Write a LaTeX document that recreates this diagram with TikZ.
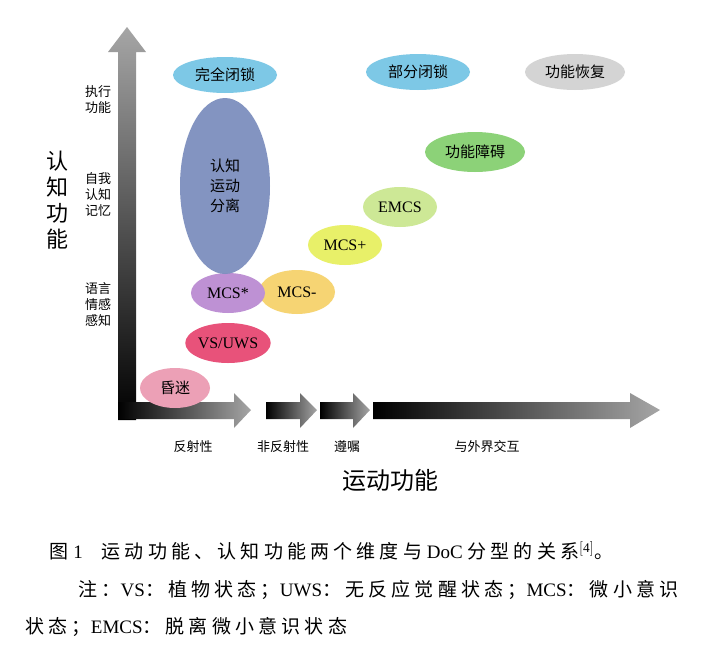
\documentclass[tikz,border=0pt]{standalone}
\usepackage{fontspec}
\setmainfont{Liberation Serif}
\newfontfamily\cjk{Noto Sans CJK SC}
\newfontfamily\cjkc[LetterSpace=22]{Noto Sans CJK SC}
\usetikzlibrary{shapes.geometric}
\definecolor{cblue}{RGB}{125,200,230}
\definecolor{cgray}{RGB}{212,212,212}
\definecolor{cslate}{RGB}{125,143,190}
\definecolor{cgreen}{RGB}{140,210,120}
\definecolor{clgreen}{RGB}{205,232,150}
\definecolor{cyel}{RGB}{232,240,105}
\definecolor{cpurp}{RGB}{190,145,212}
\definecolor{corange}{RGB}{246,212,115}
\definecolor{cred}{RGB}{232,82,122}
\definecolor{cpink}{RGB}{236,160,182}
\tikzset{
 st/.style={ellipse,fill=#1,inner sep=0pt,font=\cjk\fontsize{15}{15}\selectfont},
 lt/.style={font=\fontsize{16}{16}\selectfont},
 axlab/.style={font=\cjk\fontsize{13}{16}\selectfont,align=center},
 captxt/.style={anchor=west,font=\fontsize{19}{19}\selectfont},
}
\begin{document}
\begin{tikzpicture}[x=1pt,y=-1pt]
\useasboundingbox[fill=white] (0,0) rectangle (710,646);
% vertical axis
\shade[top color=gray!70,bottom color=black] (118,52) -- (108,52) -- (127,27) -- (146,52) -- (136,52) -- (136,420) -- (118,420) -- cycle;
% horizontal arrows
\shade[left color=black,right color=gray!70] (118,402) -- (234,402) -- (234,393) -- (251,410) -- (234,428) -- (234,419) -- (118,419) -- cycle;
\shade[left color=black,right color=gray!70] (266,402) -- (300,402) -- (300,393) -- (317,410) -- (300,428) -- (300,419) -- (266,419) -- cycle;
\shade[left color=black,right color=gray!70] (320,402) -- (353,402) -- (353,393) -- (370,410) -- (353,428) -- (353,419) -- (320,419) -- cycle;
\shade[left color=black,right color=gray!70] (373,402) -- (630,402) -- (630,393) -- (660,410) -- (630,428) -- (630,419) -- (373,419) -- cycle;
% axis labels
\node[axlab] (l1) at (193,447) {反射性};
\node[axlab] (l2) at (283,447) {非反射性};
\node[axlab] (l3) at (347,447) {遵嘱};
\node[axlab] (l4) at (487,447) {与外界交互};
\node[font=\cjk\fontsize{24}{24}\selectfont] (xt) at (390,480) {运动功能};
\node[font=\cjk\fontsize{22}{26}\selectfont,align=center] (yt) at (57,200) {认\\知\\功\\能};
\node[axlab] (y1) at (98,100) {执行\\功能};
\node[axlab] (y2) at (98,195) {自我\\认知\\记忆};
\node[axlab] (y3) at (98,305) {语言\\情感\\感知};
% states
\node[st=cblue,minimum width=104,minimum height=36] (a) at (225,75) {完全闭锁};
\node[st=cblue,minimum width=104,minimum height=36] (b) at (418,72) {部分闭锁};
\node[st=cgray,minimum width=100,minimum height=36] (c) at (575,72) {功能恢复};
\node[st=cgreen,minimum width=100,minimum height=40] (d) at (475,152) {功能障碍};
\node[st=clgreen,minimum width=74,minimum height=40,lt] (e) at (400,207) {EMCS};
\node[st=cyel,minimum width=74,minimum height=40,lt] (f) at (345,245) {MCS+};
\node[st=corange,minimum width=76,minimum height=44,lt] (h) at (297,292) {MCS-};
\node[st=cpurp,minimum width=74,minimum height=40,lt] (g) at (228,293) {MCS*};
\node[st=cslate,minimum width=90,minimum height=176,opacity=0.95,text opacity=1,align=center,font=\cjk\fontsize{15}{20}\selectfont] (s) at (225,186) {认知\\运动\\分离};
\node[st=cred,minimum width=74,minimum height=40,lt] (v) at (228,343) {VS/UWS};
\node[st=cpink,minimum width=70,minimum height=40] (k) at (175,388) {昏迷};
% caption
\node[captxt] (cap) at (46,551) {{\cjkc 图} 1\quad{\cjkc 运动功能、认知功能两个维度与} DoC {\cjkc 分型的关系}$^{\mathrm{[4]}}${\cjkc 。}};
\node[captxt] (n1) at (75,590) {{\cjkc 注：}VS{\cjkc ：植物状态；}UWS{\cjkc ：无反应觉醒状态；}MCS{\cjkc ：微小意识}};
\node[captxt] (n2) at (22,627) {{\cjkc 状态；}EMCS{\cjkc ：脱离微小意识状态}};
\end{tikzpicture}
\end{document}
